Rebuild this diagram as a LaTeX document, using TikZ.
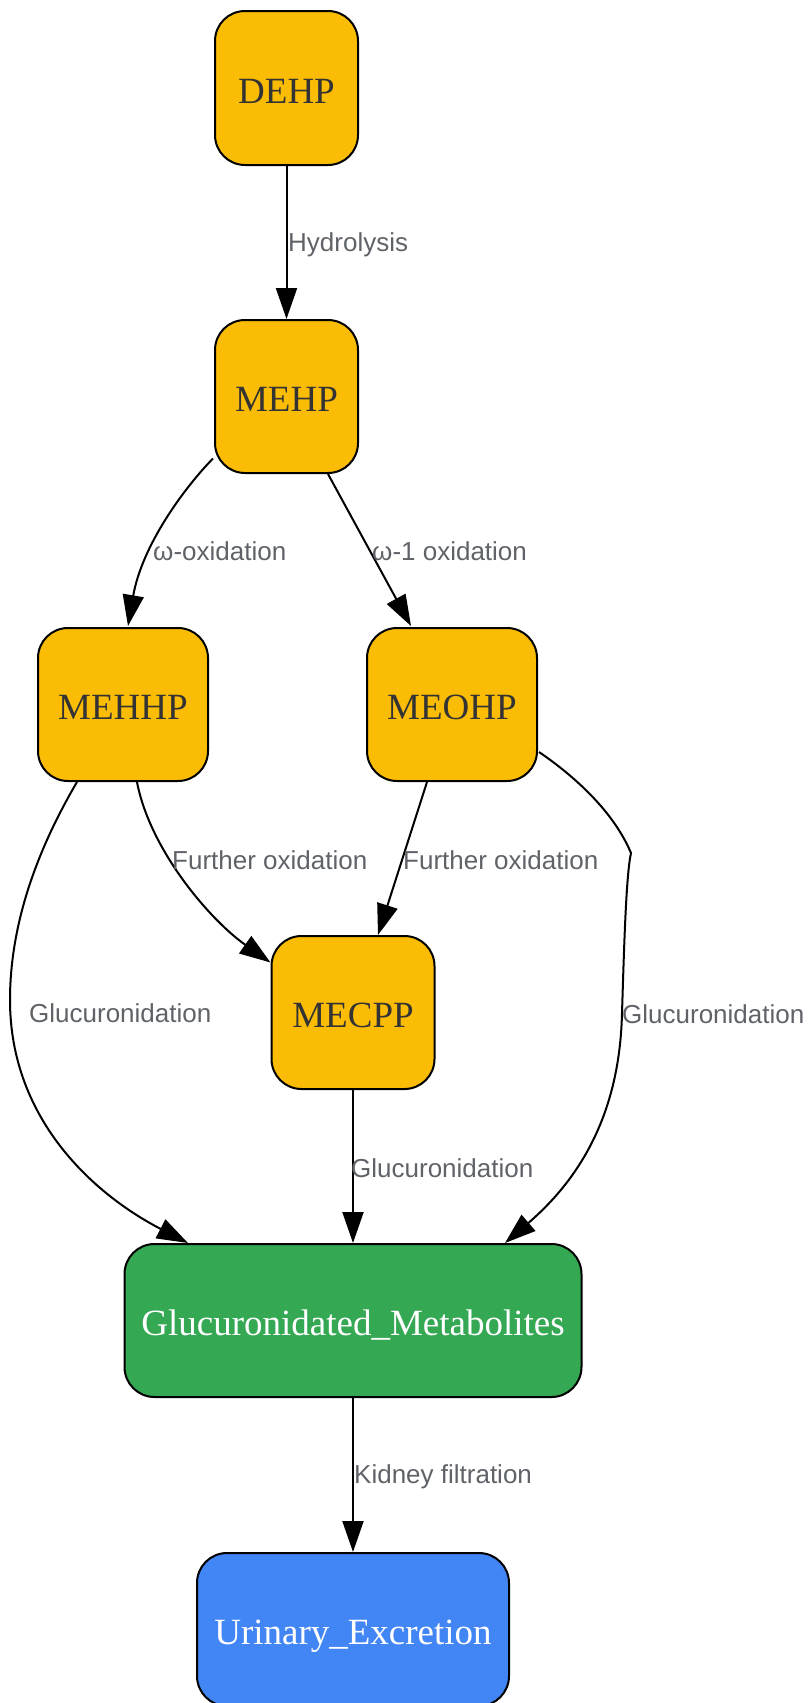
\documentclass[tikz,border=0pt]{standalone}
\usepackage{fontspec}
\setmainfont{Liberation Serif}
\newfontfamily\lblfont{Liberation Sans}
\usetikzlibrary{arrows.meta,calc}
\definecolor{gyellow}{HTML}{FBBC05}
\definecolor{ggreen}{HTML}{34A853}
\definecolor{gblue}{HTML}{4285F4}
\definecolor{ntext}{HTML}{333333}
\definecolor{ltext}{HTML}{5F6368}
\tikzset{
  box/.style={draw=black, line width=2pt, rectangle, rounded corners=30pt,
    minimum height=153pt, inner sep=0pt, text height=30pt, text depth=0pt,
    font=\fontsize{37}{44}\selectfont},
  ybox/.style={box, fill=gyellow, text=ntext},
  gbox/.style={box, fill=ggreen, text=white},
  bbox/.style={box, fill=gblue, text=white},
  edge/.style={draw=black, line width=2pt, -{Triangle[length=31pt,width=21pt]}},
  lbl/.style={anchor=west, inner sep=0pt, text=ltext, font=\lblfont\fontsize{26}{30}\selectfont}
}
\begin{document}
\begin{tikzpicture}[x=1pt,y=-1pt]
\useasboundingbox (0,0) rectangle (811,1703);
\node[ybox, minimum width=143pt, minimum height=154pt] (DEHP) at (286.5,88) {DEHP};
\node[ybox, minimum width=143pt] (MEHP) at (286.5,396.5) {MEHP};
\node[ybox, minimum width=170pt] (MEHHP) at (123,704.5) {MEHHP};
\node[ybox, minimum width=170pt] (MEOHP) at (452,704.5) {MEOHP};
\node[ybox, minimum width=163pt] (MECPP) at (353,1012.5) {MECPP};
\node[gbox, minimum width=457pt] (GM) at (353,1320.5) {Glucuronidated\_Metabolites};
\node[bbox, minimum width=312pt] (UE) at (353,1629.5) {Urinary\_Excretion};

% edges
\draw[edge] (DEHP.south) -- (MEHP.north);
\draw[edge] ($(MEHP.west)+(-1,62)$) .. controls (185,487) and (142,545) .. ($(MEHHP.north)+(5,-1)$);
\draw[edge] ($(MEHP.south)+(41.5,0)$) -- ($(MEOHP.north)+(-41,-1)$);
\draw[edge] ($(MEHHP.south)+(14,0)$) .. controls (150,850) and (210,920) .. ($(MECPP.west)+(0,-50)$);
\draw[edge] ($(MEOHP.south)+(-25,0)$) -- ($(MECPP.north)+(25,0)$);
\draw[edge] ($(MEHHP.south)+(-46,0)$) .. controls (40,845) and (10,920) .. (10,1000)
  .. controls (10,1120) and (95,1195) .. ($(GM.north)+(-165,0)$);
\draw[edge] ($(MEOHP.east)+(1,47.5)$) .. controls (580,780) and (615,815) .. (631,853)
  .. controls (626,875) and (624,950) .. (622,1013)
  .. controls (620,1100) and (590,1170) .. ($(GM.north)+(152,0)$);
\draw[edge] (MECPP.south) -- (GM.north);
\draw[edge] (GM.south) -- (UE.north);

% labels
\node[lbl] (l1) at (288,245) {Hydrolysis};
\node[lbl] (l2) at (153,551) {ω-oxidation};
\node[lbl] (l3) at (372,551) {ω-1 oxidation};
\node[lbl] (l4) at (172,860) {Further oxidation};
\node[lbl] (l5) at (403,860) {Further oxidation};
\node[lbl] (l6) at (29,1013) {Glucuronidation};
\node[lbl] (l7) at (622,1014) {Glucuronidation};
\node[lbl] (l8) at (351,1168) {Glucuronidation};
\node[lbl] (l9) at (354,1477) {Kidney filtration};
\end{tikzpicture}
\end{document}
